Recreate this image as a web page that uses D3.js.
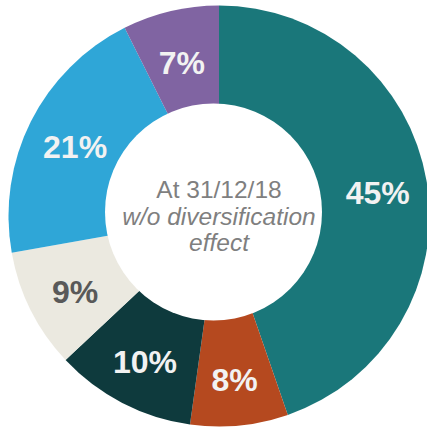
<!DOCTYPE html>
<html>
<head>
<meta charset="utf-8">
<script src="https://cdn.jsdelivr.net/npm/d3@7"></script>
<style>
  html, body { margin: 0; padding: 0; background: #ffffff; overflow: hidden; }
  svg { display: block; }
</style>
</head>
<body>
<svg id="chart" width="427" height="428"></svg>
<script>
const categories = ["A", "B", "C", "D", "E", "F"];
const values = [44.7, 7.5, 10.8, 9.2, 20.4, 7.4];
const labels = ["45%", "8%", "10%", "9%", "21%", "7%"];
const colors = ["#1a777a", "#b5491f", "#0e3a3d", "#ebe9e0", "#2fa6d7", "#8064a2"];
const labelColors = ["#f2f2f2", "#f2f2f2", "#f2f2f2", "#595959", "#f2f2f2", "#f2f2f2"];
const centerLines = ["At 31/12/18", "w/o diversification", "effect"];

const svg = d3.select("#chart");
const cx = 219, cy = 216, outerR = 210.5, holeR = 108.5;

const pie = d3.pie().sort(null).value(d => d.value);
const data = categories.map((c, i) => ({ cat: c, value: values[i], i }));
const arcs = pie(data);

const arc = d3.arc().innerRadius(0).outerRadius(outerR);
const labelArc = d3.arc().innerRadius(161).outerRadius(161);

const g = svg.append("g").attr("transform", `translate(${cx},${cy})`);
g.selectAll("path.slice").data(arcs).join("path")
  .attr("class", "slice")
  .attr("d", arc)
  .attr("fill", d => colors[d.data.i]);

// white hole
svg.append("circle")
  .attr("cx", 213.5).attr("cy", 212).attr("r", holeR)
  .attr("fill", "#ffffff");

g.selectAll("text.lbl").data(arcs).join("text")
  .attr("class", "lbl")
  .attr("transform", d => `translate(${labelArc.centroid(d)})`)
  .attr("text-anchor", "middle")
  .attr("dy", "0.45em")
  .attr("font-family", "Liberation Sans, Arial, sans-serif")
  .attr("font-weight", "bold")
  .attr("font-size", 32)
  .attr("fill", d => labelColors[d.data.i])
  .text(d => labels[d.data.i]);

const ct = svg.append("g").attr("font-family", "Liberation Sans, Arial, sans-serif")
  .attr("font-size", 24.5).attr("fill", "#7f7f7f").attr("text-anchor", "middle");
const baselines = [198, 225, 251];
centerLines.forEach((t, i) => {
  ct.append("text")
    .attr("x", 219).attr("y", baselines[i])
    .attr("font-style", i === 0 ? "normal" : "italic")
    .text(t);
});
</script>
</body>
</html>
